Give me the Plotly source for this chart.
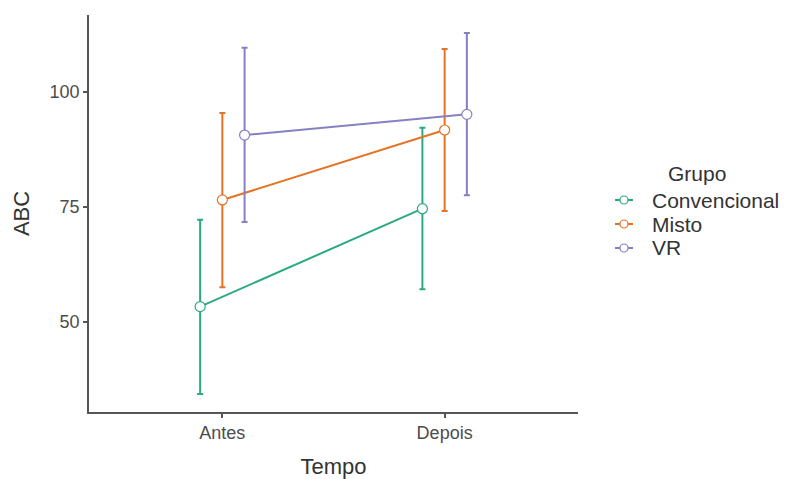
import plotly.graph_objects as go

tempo = ["Antes", "Depois"]
grupos = ["Convencional", "Misto", "VR"]
media = {
    "Convencional": [53.3, 74.6],
    "Misto": [76.5, 91.7],
    "VR": [90.6, 95.1],
}
superior = {
    "Convencional": [72.2, 92.2],
    "Misto": [95.4, 109.3],
    "VR": [109.6, 112.8],
}
inferior = {
    "Convencional": [34.3, 57.1],
    "Misto": [57.5, 74.1],
    "VR": [71.7, 77.5],
}
cores = {"Convencional": "#2aa982", "Misto": "#e57325", "VR": "#8680c4"}
dodge = {"Convencional": -0.1, "Misto": 0.0, "VR": 0.1}

# figure geometry (page has an 8px body margin)
W, H = 783, 471
L, R, T, B = 81, 213, 7, 67
PW, PH = W - L - R, H - T - B


def px_to_paper(fx, fy):
    return (fx - L) / PW, (H - B - fy) / PH


fig = go.Figure()
for g in grupos:
    xs = [i + 1 + dodge[g] for i in range(len(tempo))]
    up = [s - m for s, m in zip(superior[g], media[g])]
    dn = [m - s for s, m in zip(inferior[g], media[g])]
    fig.add_trace(go.Scatter(
        x=xs, y=media[g], name=g, mode="lines+markers",
        line=dict(color=cores[g], width=2),
        marker=dict(symbol="circle", size=10, color="white",
                    line=dict(color=cores[g], width=1.2)),
        error_y=dict(type="data", symmetric=False, array=up, arrayminus=dn,
                     color=cores[g], thickness=2, width=3),
        showlegend=False,
    ))

# manual legend (ggplot-like compact spacing)
shapes = []
annotations = []
tx, ty = px_to_paper(689, 165)
annotations.append(dict(text="Grupo", x=tx, y=ty, xref="paper", yref="paper",
                        xanchor="center", yanchor="middle", showarrow=False,
                        font=dict(size=21, color="#333333")))
item_y = [192, 216, 240]
for g, fy in zip(grupos, item_y):
    x0, yy = px_to_paper(607, fy)
    x1, _ = px_to_paper(625, fy)
    xc, _ = px_to_paper(616, fy)
    xt, _ = px_to_paper(642, fy)
    shapes.append(dict(type="line", xref="paper", yref="paper", x0=x0, x1=x1,
                       y0=yy, y1=yy, line=dict(color=cores[g], width=2)))
    shapes.append(dict(type="circle", xref="paper", yref="paper",
                       xsizemode="pixel", ysizemode="pixel", xanchor=xc, yanchor=yy,
                       x0=-4, x1=4, y0=-4, y1=4, fillcolor="white",
                       line=dict(color=cores[g], width=1.2)))
    annotations.append(dict(text=g, x=xt, y=yy, xref="paper", yref="paper",
                            xanchor="left", yanchor="middle", showarrow=False,
                            font=dict(size=21, color="#333333")))

fig.update_layout(
    width=W, height=H,
    paper_bgcolor="white", plot_bgcolor="white",
    margin=dict(l=L, r=R, t=T, b=B),
    font=dict(family="Liberation Sans, Arial, sans-serif", color="#4d4d4d"),
    xaxis=dict(range=[0.4, 2.6], tickvals=[1, 2], ticktext=tempo,
               showgrid=False, zeroline=False, showline=True, automargin=False,
               linecolor="#555555", linewidth=1.5, ticks="outside",
               ticklen=4, tickcolor="#555555", tickwidth=1.5,
               tickfont=dict(size=18, color="#4d4d4d"),
               title=dict(text="Tempo", font=dict(size=22, color="#333333"), standoff=17)),
    yaxis=dict(range=[30.4, 116.7], tickvals=[50, 75, 100],
               showgrid=False, zeroline=False, showline=True, automargin=False,
               linecolor="#555555", linewidth=1.5, ticks="outside",
               ticklen=4, tickcolor="#555555", tickwidth=1.5,
               tickfont=dict(size=18, color="#4d4d4d"),
               title=dict(text="ABC", font=dict(size=22, color="#333333"), standoff=14)),
    shapes=shapes,
    annotations=annotations,
    showlegend=False,
)

fig.write_html("out.html")
